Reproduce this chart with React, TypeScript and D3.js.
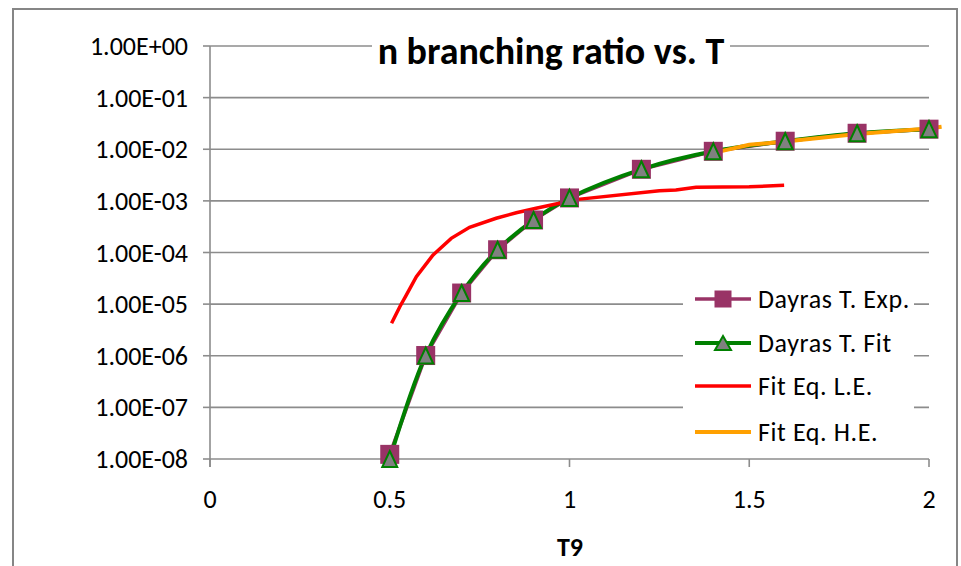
import React from "react";
import * as d3 from "d3";

const T_VALUES = [0.5, 0.6, 0.7, 0.8, 0.9, 1.0, 1.2, 1.4, 1.6, 1.8, 2.0];
const EXP_VALUES = [1.23e-8, 1.01e-6, 1.64e-5, 1.13e-4, 4.26e-4, 1.14e-3, 4.09e-3, 9.12e-3, 1.43e-2, 2.04e-2, 2.45e-2];
const FIT_VALUES = [1.0e-8, 1.01e-6, 1.64e-5, 1.13e-4, 4.26e-4, 1.14e-3, 4.09e-3, 9.12e-3, 1.43e-2, 2.04e-2, 2.45e-2];

const LE_T = [0.505, 0.528, 0.546, 0.574, 0.62, 0.671, 0.722, 0.796, 0.852, 0.907, 0.972, 1.023, 1.25, 1.296, 1.352, 1.5, 1.597];
const LE_VALUES = [4.25e-6, 8.9e-6, 1.5e-5, 3.4e-5, 8.9e-5, 1.88e-4, 3.08e-4, 4.6e-4, 5.9e-4, 7.2e-4, 9.0e-4, 1.07e-3, 1.57e-3, 1.62e-3, 1.83e-3, 1.88e-3, 2.0e-3];

const HE_T = [1.4, 1.5, 1.6, 1.8, 2.0, 2.035];
const HE_VALUES = [8.5e-3, 1.22e-2, 1.41e-2, 1.97e-2, 2.52e-2, 2.73e-2];

const Y_TICKS = [1, 1e-1, 1e-2, 1e-3, 1e-4, 1e-5, 1e-6, 1e-7, 1e-8];
const Y_LABELS = ["1.00E+00", "1.00E-01", "1.00E-02", "1.00E-03", "1.00E-04", "1.00E-05", "1.00E-06", "1.00E-07", "1.00E-08"];
const X_TICKS = [0, 0.5, 1, 1.5, 2];
const X_LABELS = ["0", "0.5", "1", "1.5", "2"];

const SERIES_NAMES = ["Dayras T. Exp.", "Dayras T. Fit", "Fit Eq. L.E.", "Fit Eq. H.E."];

const TITLE = "n branching ratio vs. T";
const X_TITLE = "T9";

const PURPLE = "#993366";
const GREEN = "#008000";
const RED = "#ff0000";
const ORANGE = "#ffa000";
const GRID = "#8c8c8c";
const FONT = "Carlito, Lato, 'Open Sans', sans-serif";

function triPath(cx: number, cy: number, w: number, h: number) {
  return `M${cx},${cy - h / 2}L${cx + w / 2},${cy + h / 2}L${cx - w / 2},${cy + h / 2}Z`;
}

export default function App() {
  const x = d3.scaleLinear().domain([0, 2]).range([210, 929]);
  const y = d3.scaleLog().domain([1e-8, 1]).range([459, 46]);

  const straight = d3
    .line<[number, number]>()
    .x((d) => x(d[0]))
    .y((d) => y(d[1]));
  const smooth = d3
    .line<[number, number]>()
    .x((d) => x(d[0]))
    .y((d) => y(d[1]))
    .curve(d3.curveCatmullRom.alpha(0.5));

  const expPts = T_VALUES.map((t, i) => [t, EXP_VALUES[i]] as [number, number]);
  const fitPts = T_VALUES.map((t, i) => [t, FIT_VALUES[i]] as [number, number]);
  const lePts = LE_T.map((t, i) => [t, LE_VALUES[i]] as [number, number]);
  const hePts = HE_T.map((t, i) => [t, HE_VALUES[i]] as [number, number]);

  const [x0, x1] = x.range();
  const yBottom = y(1e-8);
  const yTop = y(1);

  const legendX = 695;
  const legendRows = [299, 343, 386, 432];
  const fs = 26;

  return (
    <svg
      width={961}
      height={566}
      style={{ position: "absolute", left: 0, top: 0, background: "#fff" }}
      fontFamily={FONT}
    >
      <rect x={0} y={0} width={961} height={566} fill="#fff" />
      <rect x={13} y={9} width={944} height={580} fill="#fff" stroke="#868686" strokeWidth={2} />

      {/* gridlines */}
      {Y_TICKS.map((v) => (
        <line key={"g" + v} x1={x0} x2={x1} y1={y(v)} y2={y(v)} stroke={GRID} strokeWidth={1.6} />
      ))}
      {/* y axis */}
      <line x1={x0} x2={x0} y1={yTop} y2={yBottom + 8} stroke={GRID} strokeWidth={1.6} />
      {Y_TICKS.map((v) => (
        <line key={"yt" + v} x1={x0 - 7} x2={x0} y1={y(v)} y2={y(v)} stroke={GRID} strokeWidth={1.6} />
      ))}
      {Y_TICKS.map((v, i) => (
        <text key={"yl" + v} x={188} y={y(v)} dy="0.35em" textAnchor="end" fontSize={fs} fill="#000">
          {Y_LABELS[i]}
        </text>
      ))}
      {X_TICKS.map((v) => (
        <line key={"xt" + v} x1={x(v)} x2={x(v)} y1={yBottom} y2={yBottom + 8} stroke={GRID} strokeWidth={1.6} />
      ))}
      {X_TICKS.map((v, i) => (
        <text key={"xl" + v} x={x(v)} y={499} dy="0.35em" textAnchor="middle" fontSize={fs} fill="#000">
          {X_LABELS[i]}
        </text>
      ))}
      <text x={570} y={547} dy="0.35em" textAnchor="middle" fontSize={fs} fontWeight="bold" fill="#000">
        {X_TITLE}
      </text>

      {/* title */}
      <rect x={372} y={26} width={358} height={42} fill="#fff" />
      <text x={551} y={64} textAnchor="middle" fontSize={38} fontWeight="bold" fill="#000">
        {TITLE}
      </text>

      {/* series lines */}
      <path d={straight(expPts) || ""} fill="none" stroke={PURPLE} strokeWidth={3.5} />
      <path d={smooth(fitPts) || ""} fill="none" stroke={GREEN} strokeWidth={4} />
      <path d={straight(lePts) || ""} fill="none" stroke={RED} strokeWidth={3.5} />
      <path d={straight(hePts) || ""} fill="none" stroke={ORANGE} strokeWidth={4} />

      {/* markers */}
      {expPts.map((p, i) => (
        <rect key={"sq" + i} x={x(p[0]) - 9.5} y={y(p[1]) - 9.5} width={19} height={19} fill={PURPLE} />
      ))}
      {fitPts.map((p, i) => (
        <path key={"tr" + i} d={triPath(x(p[0]), y(p[1]), 15, 16)} fill="#808080" stroke={GREEN} strokeWidth={2} />
      ))}

      {/* legend */}
      <rect x={683} y={280} width={231} height={172} fill="#fff" />
      <line x1={legendX} x2={legendX + 56} y1={legendRows[0]} y2={legendRows[0]} stroke={PURPLE} strokeWidth={3.5} />
      <rect x={legendX + 28 - 8.5} y={legendRows[0] - 8.5} width={17} height={17} fill={PURPLE} />
      <line x1={legendX} x2={legendX + 56} y1={legendRows[1]} y2={legendRows[1]} stroke={GREEN} strokeWidth={4} />
      <path d={triPath(legendX + 28, legendRows[1], 16, 14)} fill="#808080" stroke={GREEN} strokeWidth={2} />
      <line x1={legendX} x2={legendX + 56} y1={legendRows[2]} y2={legendRows[2]} stroke={RED} strokeWidth={3.5} />
      <line x1={legendX} x2={legendX + 56} y1={legendRows[3]} y2={legendRows[3]} stroke={ORANGE} strokeWidth={4} />
      {SERIES_NAMES.map((n, i) => (
        <text key={n} x={758} y={legendRows[i]} dy="0.35em" fontSize={fs} letterSpacing={0.6} fill="#000">
          {n}
        </text>
      ))}
    </svg>
  );
}
